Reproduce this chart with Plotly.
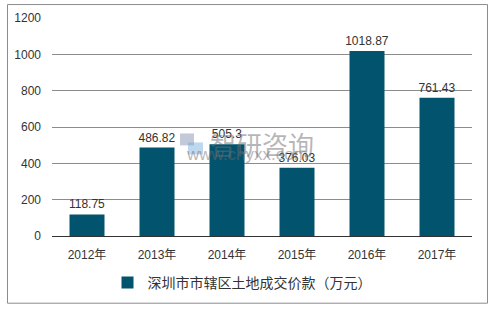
import plotly.graph_objects as go

years = ["2012年", "2013年", "2014年", "2015年", "2016年", "2017年"]
values = [118.75, 486.82, 505.3, 376.03, 1018.87, 761.43]
labels = ["118.75", "486.82", "505.3", "376.03", "1018.87", "761.43"]
series_name = "深圳市市辖区土地成交价款（万元）"
y_ticks = [0, 200, 400, 600, 800, 1000, 1200]

FONT = "Liberation Sans, Arial, Noto Sans CJK SC, sans-serif"

fig = go.Figure()
fig.add_trace(go.Bar(
    x=years, y=values, name=series_name,
    marker=dict(color="#02536D", line=dict(width=0)),
    text=labels, textposition="outside", cliponaxis=False,
    constraintext="none",
    textfont=dict(size=12, color="#333333", family=FONT),
))

L, R, T, B = 52, 23, 18, 73
W, H = 495, 310
pw, ph = W - L - R, H - T - B

def px(x):
    return (x - L) / pw

def py(y):
    return (H - B - y) / ph

fig.add_shape(type="rect", xref="paper", yref="paper",
              x0=px(7.5), x1=px(487.5), y0=py(304.5), y1=py(4.5),
              line=dict(color="#8C8C8C", width=1), layer="below")

# watermark logo (light rectangles)
fig.add_shape(type="rect", xref="paper", yref="paper",
              x0=px(180), x1=px(194), y0=py(146), y1=py(134),
              line=dict(width=0), fillcolor="rgba(120,135,170,0.45)", layer="above")
fig.add_shape(type="rect", xref="paper", yref="paper",
              x0=px(188), x1=px(203), y0=py(155), y1=py(143),
              line=dict(width=0), fillcolor="rgba(110,170,215,0.45)", layer="above")
fig.add_annotation(xref="paper", yref="paper", x=px(262), y=py(144),
                   text="智研咨询", showarrow=False,
                   font=dict(size=26, color="rgba(110,110,115,0.5)", family="Noto Sans CJK SC"))
fig.add_annotation(xref="paper", yref="paper", x=px(247), y=py(167),
                   text="www.chyxx.com", showarrow=False,
                   font=dict(size=17, color="rgba(110,110,115,0.5)", family=FONT))

fig.update_layout(
    width=W, height=H,
    margin=dict(l=L, r=R, t=T, b=B),
    paper_bgcolor="white", plot_bgcolor="white",
    bargap=0.5,
    font=dict(family=FONT, size=12, color="#333333"),
    showlegend=True,
    legend=dict(orientation="h", x=px(242), xanchor="center", y=py(283), yanchor="middle",
                font=dict(size=14, color="#333333", family=FONT)),
    xaxis=dict(showgrid=False, showline=True, linecolor="#333333", linewidth=1,
               ticks="", ticklabelstandoff=8, tickfont=dict(size=12)),
    yaxis=dict(range=[0, 1200], tickvals=y_ticks, showgrid=True,
               gridcolor="#8C8C8C", gridwidth=1, zeroline=False, showline=False,
               ticks="", ticklabelstandoff=10, tickfont=dict(size=12)),
)

fig.write_html("out.html")
